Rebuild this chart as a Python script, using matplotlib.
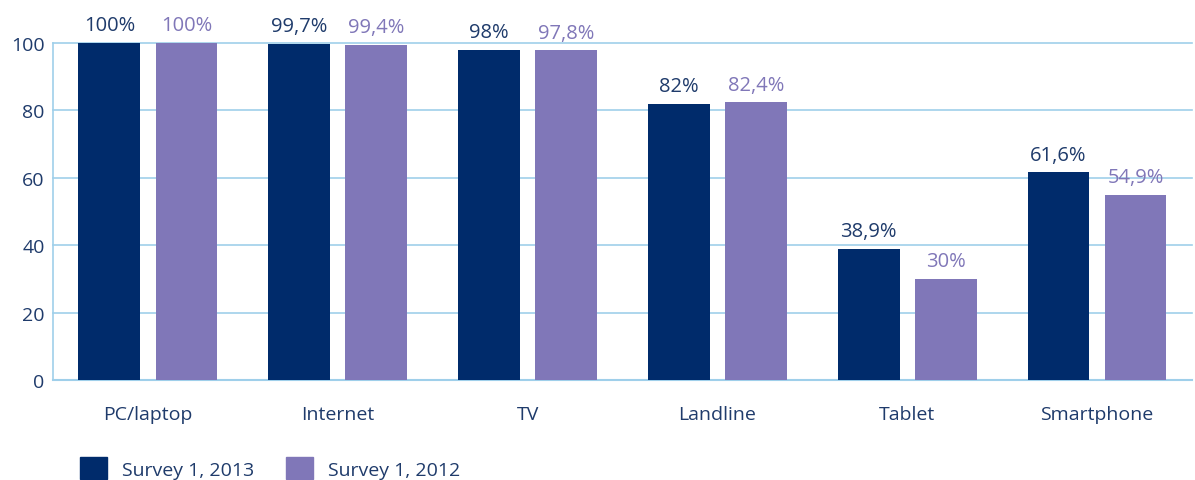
import matplotlib.pyplot as plt
import numpy as np
from matplotlib.patches import Patch

plt.rcParams['font.family'] = ['Open Sans', 'DejaVu Sans']

categories = ['PC/laptop', 'Internet', 'TV', 'Landline', 'Tablet', 'Smartphone']
survey_2013 = [100, 99.7, 98, 82, 38.9, 61.6]
survey_2012 = [100, 99.4, 97.8, 82.4, 30, 54.9]
yticks = [0, 20, 40, 60, 80, 100]

DARK = '#002b6b'
PURPLE = '#8077b8'
GRID = '#9fcfea'
TEXT = '#1f3b6b'


def fmt(v):
  s = f'{v:g}'.replace('.', ',')
  return s + '%'


fig = plt.figure(figsize=(11.95, 4.81), dpi=100)
ax = fig.add_axes([0.0444, 0.208, 0.953, 0.7005])

x = np.arange(len(categories))
w = 0.326
off = 0.203
b1 = ax.bar(x - off, survey_2013, w, color=DARK, zorder=3)
b2 = ax.bar(x + off, survey_2012, w, color=PURPLE, zorder=3)

for rect, v in zip(b1, survey_2013):
  ax.text(rect.get_x() + rect.get_width() / 2, v + 2.3, fmt(v), ha='center', va='bottom',
          color=TEXT, fontsize=14.5, fontstretch='normal', clip_on=False)
for rect, v in zip(b2, survey_2012):
  ax.text(rect.get_x() + rect.get_width() / 2, v + 2.3, fmt(v), ha='center', va='bottom',
          color=PURPLE, fontsize=14.5, fontstretch='normal', clip_on=False)

ax.set_xlim(-0.5, len(categories) - 0.5)
ax.set_ylim(0, 100)
ax.set_yticks(yticks)
ax.set_xticks(x)
ax.set_xticklabels(categories)
ax.tick_params(axis='both', length=0, labelsize=14, colors=TEXT)
ax.tick_params(axis='x', pad=18)
ax.tick_params(axis='y', pad=6)
ax.yaxis.grid(True, color=GRID, linewidth=1.2, zorder=0)
for gl in ax.get_ygridlines():
  gl.set_clip_on(False)
for s in ['top', 'right']:
  ax.spines[s].set_visible(False)
ax.spines['left'].set_color(GRID)
ax.spines['bottom'].set_color(GRID)
ax.spines['left'].set_linewidth(1.2)
ax.spines['bottom'].set_linewidth(1.5)

handles = [Patch(color=DARK, label='Survey 1, 2013'), Patch(color=PURPLE, label='Survey 1, 2012')]
fig.legend(handles=handles, loc='lower left', bbox_to_anchor=(0.052, -0.035), ncol=2,
           frameon=False, fontsize=14, labelcolor=TEXT, handlelength=1.4, handleheight=1.4,
           columnspacing=1.6, handletextpad=0.8)

fig.savefig('out.png', dpi=100)
